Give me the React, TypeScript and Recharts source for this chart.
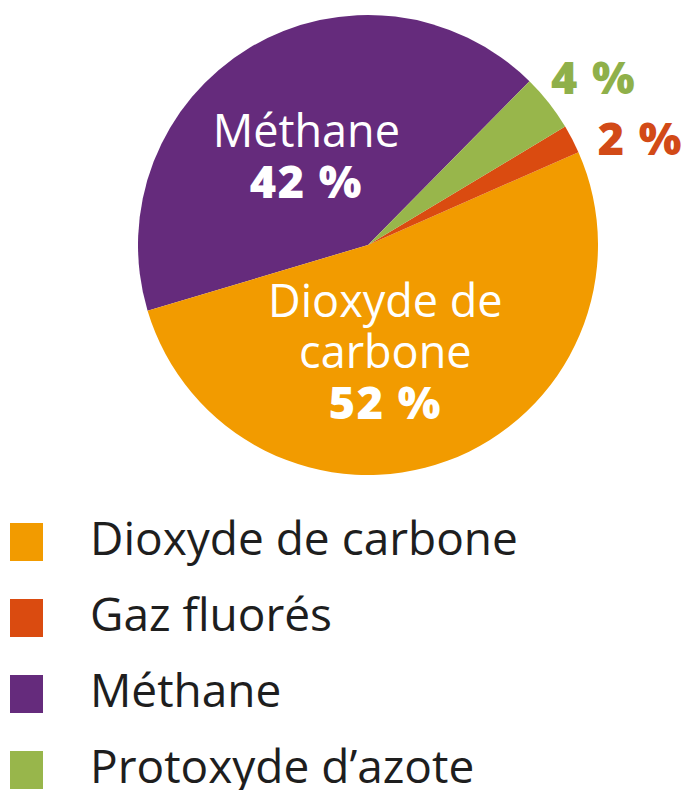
import React from "react";
import { Legend, Pie, PieChart, Cell } from "recharts";

// slice order, counter-clockwise from the top-right edge
const gases = ["Méthane", "Dioxyde de carbone", "Gaz fluorés", "Protoxyde d’azote"];
const shares = [42, 52, 2, 4];
const colors = ["#652b7c", "#f29b00", "#da4b10", "#98b64b"];

// legend order as printed
const legendGases = ["Dioxyde de carbone", "Gaz fluorés", "Méthane", "Protoxyde d’azote"];

// text shown on each slice
const sliceLines: Record<string, string[]> = {
  "Méthane": ["Méthane"],
  "Dioxyde de carbone": ["Dioxyde de", "carbone"],
  "Gaz fluorés": [],
  "Protoxyde d’azote": [],
};
const outsideTextColor: Record<string, string> = {
  "Gaz fluorés": "#d24a17",
  "Protoxyde d’azote": "#8fb04a",
};

const data = gases.map((name, i) => ({ name, value: shares[i], color: colors[i] }));

const FONT = "'Open Sans', sans-serif";
const RAD = Math.PI / 180;

// small hand nudges so labels sit where the printed ones do
const nudge: Record<string, [number, number]> = {
  "Méthane": [-6, 4],
  "Dioxyde de carbone": [-20, 6],
  "Gaz fluorés": [22, 24],
  "Protoxyde d’azote": [4, 7],
};

function SliceLabel(props: any) {
  const { cx, cy, midAngle, outerRadius, name, value } = props;
  const lines = sliceLines[name] || [];
  const inside = lines.length > 0;
  const r = inside ? outerRadius * 0.47 : outerRadius + 52;
  const [nx, ny] = nudge[name] || [0, 0];
  const x = cx + r * Math.cos(-midAngle * RAD) + nx;
  const y = cy + r * Math.sin(-midAngle * RAD) + ny;
  const all = [...lines, `${value} %`];
  const lh = 51;
  const first = y - ((all.length - 1) * lh) / 2 + 16;
  return (
    <g>
      {all.map((t, i) => {
        const isPct = i === all.length - 1;
        return (
          <text
            key={i}
            x={x}
            y={first + i * lh}
            textAnchor="middle"
            fontFamily={FONT}
            fontSize={45}
            fontWeight={isPct ? 800 : 400}
            letterSpacing={isPct ? 1.5 : 0}
            fill={inside ? "#ffffff" : outsideTextColor[name]}
          >
            {t}
          </text>
        );
      })}
    </g>
  );
}

function LegendBox() {
  return (
    <div style={{ fontFamily: FONT }}>
      {legendGases.map((g) => (
        <div key={g} style={{ position: "relative", height: 76 }}>
          <div
            style={{
              position: "absolute",
              left: 10,
              top: 24,
              width: 33,
              height: 38,
              background: colors[gases.indexOf(g)],
            }}
          />
          <div
            style={{
              position: "absolute",
              left: 90,
              top: 0,
              fontSize: 46,
              lineHeight: "76px",
              color: "#1e1e1e",
              whiteSpace: "nowrap",
            }}
          >
            {g}
          </div>
        </div>
      ))}
    </div>
  );
}

export default function App() {
  return (
    <div style={{ position: "absolute", left: 0, top: 0, width: 686, height: 790, background: "#fff", overflow: "hidden" }}>
      <PieChart width={686} height={790} margin={{ top: 0, right: 0, bottom: 0, left: 0 }}>
        <Pie
          data={data}
          dataKey="value"
          nameKey="name"
          cx={368}
          cy={245}
          outerRadius={230}
          startAngle={45.4}
          endAngle={405.4}
          stroke="none"
          labelLine={false}
          label={SliceLabel}
          isAnimationActive={false}
        >
          {data.map((d) => (
            <Cell key={d.name} fill={d.color} />
          ))}
        </Pie>
        <Legend
          layout="vertical"
          wrapperStyle={{ top: 499, left: 0, width: 686 }}
          content={() => <LegendBox />}
        />
      </PieChart>
    </div>
  );
}
